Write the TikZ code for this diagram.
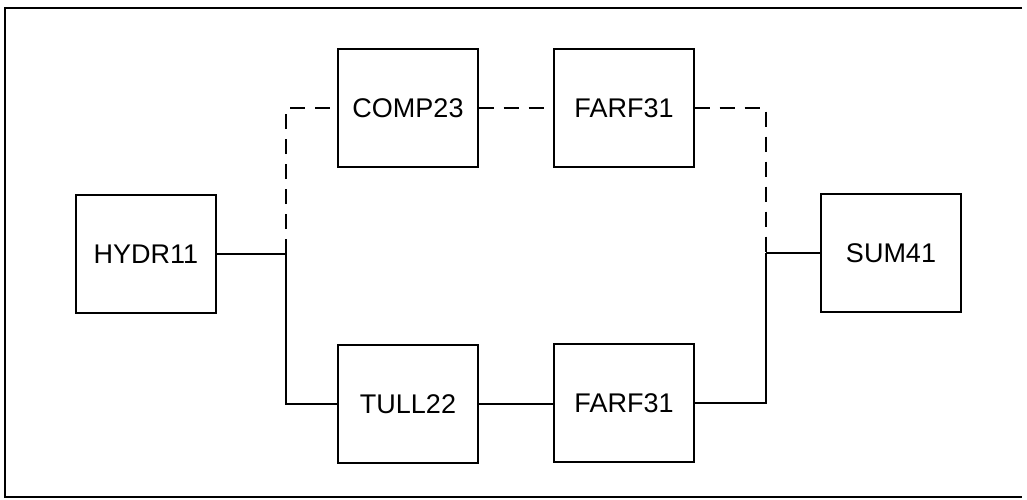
\documentclass[tikz,border=0pt]{standalone}
\usepackage{fontspec}
\setmainfont{Liberation Sans}
\begin{document}
\begin{tikzpicture}[x=1pt,y=-1pt,
  blk/.style={draw,line width=1.3pt,minimum width=140pt,minimum height=118pt,inner sep=0pt,font=\fontsize{27}{31}\selectfont},
  wire/.style={line width=1.2pt},
  dwire/.style={line width=1.2pt,dash pattern=on 15pt off 10pt}]
\useasboundingbox (0,0) rectangle (1027,499);
\draw[line width=1.6pt] (1022,8) -- (5,8) -- (5,497) -- (1022,497);
\node[blk] (hydr) at (146,254) {HYDR11};
\node[blk] (comp) at (408,108) {COMP23};
\node[blk] (farfa) at (624,108) {FARF31};
\node[blk] (sum) at (891,253) {SUM41};
\node[blk] (tull) at (408,404) {TULL22};
\node[blk] (farfb) at (624,403) {FARF31};
\coordinate (jl) at (286,254);
\coordinate (jr) at (766,253);
\draw[wire] (hydr.east) -- (jl);
\draw[wire] (jl) |- (tull.west);
\draw[dwire] (jl) |- (comp.west);
\draw[dwire] (comp.east) -- (farfa.west);
\draw[dwire] (farfa.east) -| (jr);
\draw[wire] (jr) -- (sum.west);
\draw[wire] (jr) |- (farfb.east);
\draw[wire] (tull.east) -- (farfb.west |- tull.east);
\end{tikzpicture}
\end{document}
